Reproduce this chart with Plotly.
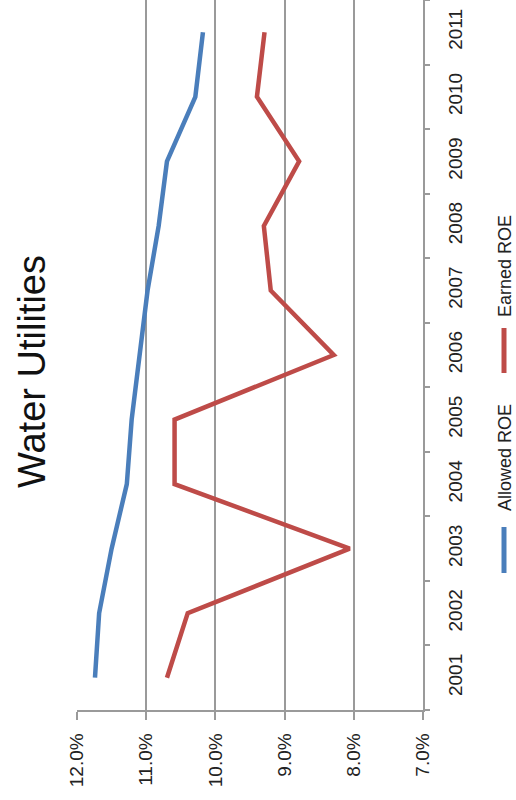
import plotly.graph_objects as go

# Return on equity for water utilities, percent by year
years = ["2001", "2002", "2003", "2004", "2005", "2006",
         "2007", "2008", "2009", "2010", "2011"]
allowed_roe = [11.74, 11.68, 11.50, 11.28, 11.21, 11.09,
               10.98, 10.82, 10.70, 10.29, 10.18]
earned_roe = [10.70, 10.40, 8.06, 10.59, 10.59, 8.29,
              9.20, 9.30, 8.79, 9.40, 9.29]
pct_ticks = [12, 11, 10, 9, 8, 7]
pct_labels = ["12.0%", "11.0%", "10.0%", "9.0%", "8.0%", "7.0%"]

W, H = 516, 800
L, R, T, B = 77, 93, 0, 90
PW, PH = W - L - R, H - T - B


def px(x):
    return (x - L) / PW


def py(y):
    return 1 - (y - T) / PH


BLUE = "#4a7ebb"
RED = "#be4b48"
GRID = "#9a9a9a"
FONT = "Liberation Sans, Arial, sans-serif"

fig = go.Figure()
fig.add_trace(go.Scatter(x=allowed_roe, y=years, mode="lines", name="Allowed ROE",
                         line=dict(color=BLUE, width=4.5)))
fig.add_trace(go.Scatter(x=earned_roe, y=years, mode="lines", name="Earned ROE",
                         line=dict(color=RED, width=4.5)))

fig.update_layout(
    width=W, height=H,
    margin=dict(l=L, r=R, t=T, b=B, pad=0),
    paper_bgcolor="white", plot_bgcolor="white",
    showlegend=False,
    font=dict(family=FONT, color="#222222"),
    xaxis=dict(
        range=[12, 7], tickvals=pct_ticks, ticktext=pct_labels,
        tickangle=-90, tickfont=dict(size=19),
        showgrid=True, gridcolor=GRID, gridwidth=1.5,
        showline=True, linecolor=GRID, linewidth=1.5,
        ticks="outside", ticklen=8, tickcolor=GRID, tickwidth=1.5,
        ticklabelstandoff=6, zeroline=False,
    ),
    yaxis=dict(
        type="category", categoryorder="array", categoryarray=years,
        range=[-0.5, len(years) - 0.5], side="right",
        tickangle=-90, tickfont=dict(size=19),
        showgrid=False, showline=True, linecolor=GRID, linewidth=1.5,
        ticks="outside", tickson="boundaries", ticklen=5,
        tickcolor=GRID, tickwidth=1.5, ticklabelstandoff=14, zeroline=False,
    ),
)

# Title, rotated with the chart
fig.add_annotation(text="Water Utilities", xref="paper", yref="paper",
                   x=px(32), y=py(372), textangle=-90, showarrow=False,
                   font=dict(size=38, color="#111111", family=FONT),
                   xanchor="center", yanchor="middle")

# Rotated legend: swatch line plus label for each series
legend_items = [
    ("Allowed ROE", BLUE, 458, 527, 573),
    ("Earned ROE", RED, 266, 328, 373),
]
for label, color, text_y, y0, y1 in legend_items:
    fig.add_shape(type="line", xref="paper", yref="paper",
                  x0=px(504), x1=px(504), y0=py(y0), y1=py(y1),
                  line=dict(color=color, width=5))
    fig.add_annotation(text=label, xref="paper", yref="paper",
                       x=px(505), y=py(text_y), textangle=-90, showarrow=False,
                       font=dict(size=18, color="#222222", family=FONT),
                       xanchor="center", yanchor="middle")

fig.write_html("out.html")
